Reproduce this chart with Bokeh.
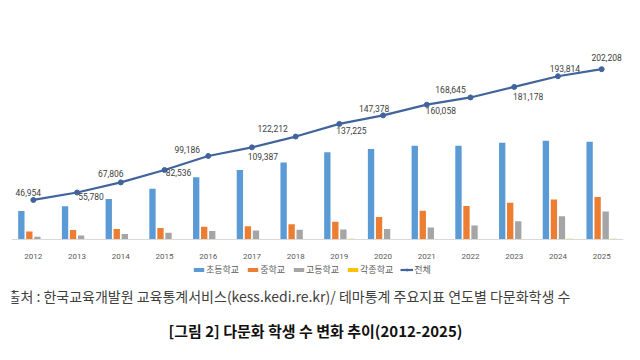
from bokeh.plotting import figure
from bokeh.models import ColumnDataSource, Legend, LegendItem, Label
from bokeh.transform import dodge
from bokeh.core.properties import value
from bokeh.embed import file_html
from bokeh.resources import INLINE

years = ["2012", "2013", "2014", "2015", "2016", "2017", "2018",
         "2019", "2020", "2021", "2022", "2023", "2024", "2025"]
elementary = [33700, 39400, 48200, 60300, 73900, 82500, 91500,
              103500, 107500, 111200, 111300, 114800, 117200, 116000]
middle = [9600, 11300, 12400, 13700, 15000, 15700, 18100,
          21200, 26700, 34000, 39700, 43500, 47500, 50500]
high = [3300, 4700, 6400, 8000, 10000, 10600, 11500,
        11800, 12500, 14100, 16500, 21700, 27500, 33300]
other = [200, 300, 300, 250, 300, 550, 700,
         800, 650, 450, 550, 600, 750, 800]
total = [46954, 55780, 67806, 82536, 99186, 109387, 122212,
         137225, 147378, 160058, 168645, 181178, 193814, 202208]
series_names = ["초등학교", "중학교", "고등학교", "각종학교", "전체"]

# label placement (screen px, style only)
label_dx = [-5, 14, -10, 14, -21, 11, -23, 12, -9, 14, -20, 14, 7, 5]
label_dy = [-7, 4, -9, 3, -6, 9, -8, 7, -7, 6, -8, 10, -8, -12]

src = ColumnDataSource(dict(
    year=years, e=elementary, m=middle, h=high, o=other, t=total,
    lbl=[f"{v:,}" for v in total], dx=label_dx, dy=label_dy))

p = figure(x_range=years, y_range=(-143653, 260000), width=640, height=360,
           output_backend="svg", toolbar_location=None,
           min_border_left=11, min_border_right=17, min_border_top=20,
           min_border_bottom=0)
p.outline_line_color = None
p.background_fill_color = "white"
p.border_fill_color = "white"
p.xgrid.visible = False
p.ygrid.visible = False
p.yaxis.visible = False
p.x_range.range_padding = 0

ax = p.xaxis[0]
ax.fixed_location = 0
ax.axis_line_color = "#D9D9D9"
ax.axis_line_width = 1
ax.major_tick_line_color = None
ax.minor_tick_line_color = None
ax.major_label_standoff = 9
ax.major_label_text_font = "Roboto"
ax.major_label_text_font_size = "8px"
ax.major_label_text_color = "#595959"

colors = ["#5B9BD5", "#ED7D31", "#A5A5A5", "#FFC000"]
fields = ["e", "m", "h", "o"]
offsets = [-0.275, -0.092, 0.092, 0.275]
bar_rs = []
for f, c, off in zip(fields, colors, offsets):
    r = p.vbar(x=dodge("year", off, range=p.x_range), top=f, width=0.145,
               source=src, fill_color=c, line_color=None)
    bar_rs.append(r)

line_color = "#41649C"
lr = p.line(x="year", y="t", source=src, line_color=line_color, line_width=2.2)
sr = p.scatter(x="year", y="t", source=src, size=5, fill_color=line_color,
               line_color=line_color)

p.text(x="year", y="t", text="lbl", source=src, x_offset="dx", y_offset="dy",
       text_align="center", text_baseline="middle",
       text_font=value("Roboto"), text_font_size="8.5px",
       text_color="#404040")

items = [LegendItem(label=series_names[i], renderers=[bar_rs[i]]) for i in range(4)]
items.append(LegendItem(label=series_names[4], renderers=[lr, sr]))
legend = Legend(items=items, orientation="horizontal", location=(181, 84.5),
                glyph_width=13, glyph_height=5, label_standoff=1, spacing=7,
                padding=0, margin=0, border_line_color=None,
                background_fill_alpha=0, label_text_font="Noto Sans CJK KR",
                label_text_font_size="9px", label_text_color="#595959",
                label_height=10)
p.add_layout(legend, "center")

p.add_layout(Label(x=-4, y=65, x_units="screen", y_units="screen",
                   text="출처 : 한국교육개발원 교육통계서비스(kess.kedi.re.kr)/ 테마통계 주요지표 연도별 다문화학생 수",
                   text_font="Noto Sans CJK KR", text_font_size="14px",
                   text_color="#404040", text_baseline="middle"))
p.add_layout(Label(x=304, y=30, x_units="screen", y_units="screen",
                   text="[그림 2] 다문화 학생 수 변화 추이(2012-2025)",
                   text_font="Noto Sans CJK KR", text_font_size="15px",
                   text_font_style="bold", text_color="#111111",
                   text_align="center", text_baseline="middle"))

open("out.html", "w").write(file_html(p, INLINE))
